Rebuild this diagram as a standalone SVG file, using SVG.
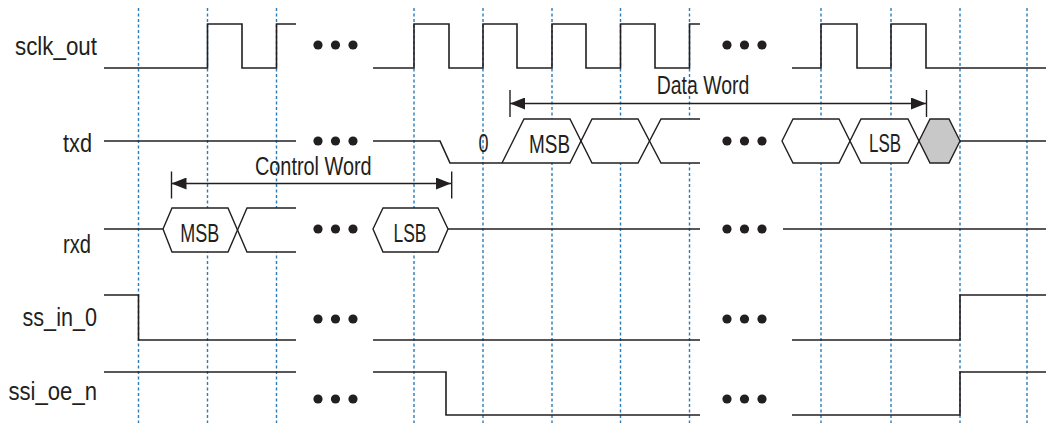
<svg xmlns="http://www.w3.org/2000/svg" width="1046" height="423" viewBox="0 0 1046 423">
<defs>
<style>
.grid{stroke:#2a7db8;stroke-width:1.4;stroke-dasharray:3 2.5;fill:none}
.w{stroke:#231f20;stroke-width:1.6;fill:none;stroke-linejoin:miter}
.bus{stroke:#231f20;stroke-width:1.4;fill:#fff;stroke-linejoin:miter}
.busl{stroke:#231f20;stroke-width:1.4;fill:none;stroke-linejoin:miter}
.bg{fill:#fff;stroke:none}
.lbl{font-family:"Liberation Sans Narrow","Liberation Sans",sans-serif;font-size:25px;fill:#231f20;text-anchor:end}
.t{font-family:"Liberation Sans Narrow","Liberation Sans",sans-serif;font-size:26px;fill:#231f20;text-anchor:middle}
.dot{fill:#231f20}
.dim{stroke:#231f20;stroke-width:1.4;fill:none}
</style>
<marker id="ah" viewBox="0 0 15 12" refX="15" refY="6" markerWidth="15" markerHeight="12" markerUnits="userSpaceOnUse" orient="auto-start-reverse">
<path d="M0,0 L15,6 L0,12 Z" fill="#231f20"/>
</marker>
</defs>
<rect width="1046" height="423" fill="#fff"/>
<g id="grid">
<line class="grid" x1="138.5" y1="8" x2="138.5" y2="423"/>
<line class="grid" x1="207.5" y1="8" x2="207.5" y2="423"/>
<line class="grid" x1="276.5" y1="8" x2="276.5" y2="423"/>
<line class="grid" x1="414" y1="8" x2="414" y2="423"/>
<line class="grid" x1="483" y1="8" x2="483" y2="423"/>
<line class="grid" x1="552" y1="8" x2="552" y2="423"/>
<line class="grid" x1="620.5" y1="8" x2="620.5" y2="423"/>
<line class="grid" x1="689.5" y1="8" x2="689.5" y2="423"/>
<line class="grid" x1="821" y1="8" x2="821" y2="423"/>
<line class="grid" x1="891" y1="8" x2="891" y2="423"/>
<line class="grid" x1="960" y1="8" x2="960" y2="423"/>
<line class="grid" x1="1027" y1="8" x2="1027" y2="423"/>
</g>
<g id="sclk_out">
<text class="lbl" x="97" y="55" textLength="82" lengthAdjust="spacingAndGlyphs">sclk_out</text>
<polyline class="w" points="104,68 207.5,68 207.5,24 242,24 242,68 276.5,68 276.5,24 296,24"/>
<polyline class="w" points="373,68 414,68 414,24 449,24 449,68 483,68 483,24 517,24 517,68 552,68 552,24 586,24 586,68 620.5,68 620.5,24 655,24 655,68 689.5,68 689.5,24 700,24"/>
<polyline class="w" points="792,68 821,68 821,24 857,24 857,68 891,68 891,24 926,24 926,68 1046,68"/>
<circle class="dot" cx="318" cy="45" r="4.6"/><circle class="dot" cx="335.5" cy="45" r="4.6"/><circle class="dot" cx="353" cy="45" r="4.6"/>
<circle class="dot" cx="727" cy="45" r="4.6"/><circle class="dot" cx="744.5" cy="45" r="4.6"/><circle class="dot" cx="762" cy="45" r="4.6"/>
</g>
<g id="txd">
<text class="lbl" x="92" y="152" textLength="29" lengthAdjust="spacingAndGlyphs">txd</text>
<polyline class="w" points="104,141 296,141"/>
<polyline class="w" points="373,141 440,141 450,163 502,163"/>
<polygon class="bg" points="502,163 524,119 570,119 581,141 570,163"/>
<polygon class="bg" points="581,141 592,119 638,119 649.5,141 638,163 592,163"/>
<polygon class="bg" points="649.5,141 661,119 700,119 700,163 661,163"/>
<polyline class="busl" points="502,163 524,119 570,119 592,163 638,163 661,119 700,119"/>
<polyline class="busl" points="502,163 570,163 592,119 638,119 661,163 700,163"/>
<text class="t" x="483.5" y="152" textLength="10" lengthAdjust="spacingAndGlyphs">0</text>
<text class="t" x="549.5" y="153" textLength="41" lengthAdjust="spacingAndGlyphs">MSB</text>
<polygon class="bus" points="782,141 793,119 839,119 850,141 839,163 793,163"/>
<polygon class="bus" points="850,141 861,119 908,119 919,141 908,163 861,163"/>
<polygon class="bus" points="919,141 930,119 949,119 960,141 949,163 930,163" style="fill:#c8c8c8"/>
<polyline class="w" points="960,141 1046,141"/>
<text class="t" x="885" y="152" textLength="32" lengthAdjust="spacingAndGlyphs">LSB</text>
<circle class="dot" cx="318" cy="141" r="4.6"/><circle class="dot" cx="335.5" cy="141" r="4.6"/><circle class="dot" cx="353" cy="141" r="4.6"/>
<circle class="dot" cx="727" cy="141" r="4.6"/><circle class="dot" cx="744.5" cy="141" r="4.6"/><circle class="dot" cx="762" cy="141" r="4.6"/>
</g>
<g id="rxd">
<text class="lbl" x="91" y="253" textLength="28" lengthAdjust="spacingAndGlyphs">rxd</text>
<polyline class="w" points="104,229 163,229"/>
<polygon class="bg" points="163,229 172,208 228,208 237.5,230 228,252 172,252"/>
<polygon class="bg" points="237.5,230 247,208 296,208 296,252 247,252"/>
<polyline class="busl" points="163,229 172,208 228,208 247,252 296,252"/>
<polyline class="busl" points="163,229 172,252 228,252 247,208 296,208"/>
<text class="t" x="199.7" y="241.5" textLength="39" lengthAdjust="spacingAndGlyphs">MSB</text>
<polygon class="bus" points="373,229 383,208 438,208 448,229 438,252 383,252"/>
<text class="t" x="410" y="241.5" textLength="33" lengthAdjust="spacingAndGlyphs">LSB</text>
<polyline class="w" points="448,229 700,229"/>
<polyline class="w" points="783,229 1046,229"/>
<circle class="dot" cx="318" cy="229" r="4.6"/><circle class="dot" cx="335.5" cy="229" r="4.6"/><circle class="dot" cx="353" cy="229" r="4.6"/>
<circle class="dot" cx="727" cy="229" r="4.6"/><circle class="dot" cx="744.5" cy="229" r="4.6"/><circle class="dot" cx="762" cy="229" r="4.6"/>
</g>
<g id="ss_in_0">
<text class="lbl" x="97" y="326" textLength="74.5" lengthAdjust="spacingAndGlyphs">ss_in_0</text>
<polyline class="w" points="104,295 138.5,295 138.5,340 296,340"/>
<polyline class="w" points="373,340 700,340"/>
<polyline class="w" points="792,340 960,340 960,295 1046,295"/>
<circle class="dot" cx="318" cy="319" r="4.6"/><circle class="dot" cx="335.5" cy="319" r="4.6"/><circle class="dot" cx="353" cy="319" r="4.6"/>
<circle class="dot" cx="727" cy="319" r="4.6"/><circle class="dot" cx="744.5" cy="319" r="4.6"/><circle class="dot" cx="762" cy="319" r="4.6"/>
</g>
<g id="ssi_oe_n">
<text class="lbl" x="97" y="400" textLength="88.5" lengthAdjust="spacingAndGlyphs">ssi_oe_n</text>
<polyline class="w" points="104,372 296,372"/>
<polyline class="w" points="373,372 446,372 446,415 700,415"/>
<polyline class="w" points="792,415 960,415 960,372 1046,372"/>
<circle class="dot" cx="318" cy="399" r="4.6"/><circle class="dot" cx="335.5" cy="399" r="4.6"/><circle class="dot" cx="353" cy="399" r="4.6"/>
<circle class="dot" cx="727" cy="399" r="4.6"/><circle class="dot" cx="744.5" cy="399" r="4.6"/><circle class="dot" cx="762" cy="399" r="4.6"/>
</g>
<g id="connectors">
<line class="dim" x1="510" y1="90" x2="510" y2="117"/>
<line class="dim" x1="926.5" y1="90" x2="926.5" y2="117"/>
<line class="dim" x1="510" y1="103.5" x2="926" y2="103.5" marker-start="url(#ah)" marker-end="url(#ah)"/>
<text class="t" x="703" y="93.5" textLength="92.6" lengthAdjust="spacingAndGlyphs">Data Word</text>
<line class="dim" x1="171.5" y1="171.5" x2="171.5" y2="198.5"/>
<line class="dim" x1="451.7" y1="171.5" x2="451.7" y2="198.5"/>
<line class="dim" x1="171.5" y1="183.5" x2="451" y2="183.5" marker-start="url(#ah)" marker-end="url(#ah)"/>
<text class="t" x="313.3" y="175" textLength="116.7" lengthAdjust="spacingAndGlyphs">Control Word</text>
</g>
</svg>
